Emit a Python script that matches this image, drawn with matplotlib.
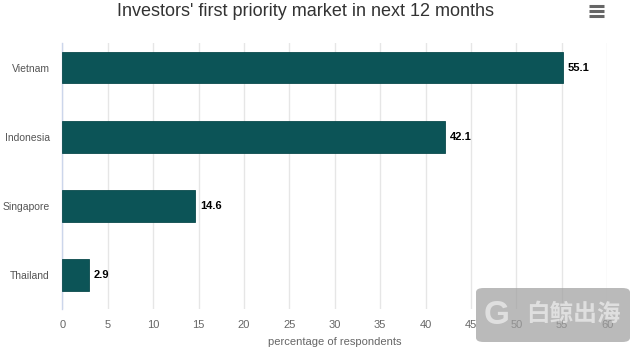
import matplotlib
matplotlib.use("Agg")
import matplotlib.pyplot as plt
from matplotlib.patches import FancyBboxPatch
from matplotlib.lines import Line2D

plt.rcParams['font.family'] = ['Liberation Sans', 'Noto Sans CJK SC', 'DejaVu Sans']

# データ
markets = ['Vietnam', 'Indonesia', 'Singapore', 'Thailand']
share = [55.1, 42.1, 14.6, 2.9]
xticks = [0, 5, 10, 15, 20, 25, 30, 35, 40, 45, 50, 55, 60]

bar_color = '#0c5457'

fig = plt.figure(figsize=(6.4, 3.51), dpi=100)
ax = fig.add_axes([0.0973, 0.1197, 0.8516, 0.7578])

ypos = list(range(len(markets)))
ax.barh(ypos, share, height=0.46, color=bar_color, edgecolor='#0a4a4c', linewidth=0.6, zorder=3)
for y, v in zip(ypos, share):
    ax.text(v + 0.55, y, f'{v}', va='center', ha='left', fontsize=8,
            fontweight='bold', color='#000000', zorder=4)

ax.set_xlim(0, 60)
ax.set_ylim(3.493, -0.355)
ax.set_xticks(xticks)
ax.set_xticklabels([str(t) for t in xticks], fontsize=8, color='#666666')
ax.set_yticks(ypos)
ax.set_yticklabels(markets, fontsize=7.5, color='#555555')
ax.tick_params(axis='both', length=0)
ax.tick_params(axis='x', pad=8)
ax.tick_params(axis='y', pad=9)

ax.grid(axis='x', color='#e6e6e6', linewidth=1, zorder=0)
ax.set_axisbelow(True)
for s in ['top', 'right', 'bottom']:
    ax.spines[s].set_visible(False)
ax.spines['left'].set_color('#ccd6eb')
ax.spines['left'].set_linewidth(1)

ax.set_xlabel('percentage of respondents', fontsize=8, color='#666666', labelpad=5)

fig.text(0.478, 0.966, "Investors' first priority market in next 12 months",
         ha='center', va='center', fontsize=13, color='#333333')

# メニューアイコン
for yy in [6, 11.3, 16]:
    fig.add_artist(Line2D([589 / 640, 604 / 640], [1 - yy / 351, 1 - yy / 351],
                          color='#666666', linewidth=2.2, solid_capstyle='butt'))

# ウォーターマーク
wm = FancyBboxPatch((476 / 640, 1 - 342 / 351), 154 / 640, 54 / 351,
                    boxstyle='round,pad=0,rounding_size=0.012',
                    transform=fig.transFigure, facecolor='#a0a0a0', alpha=0.72,
                    edgecolor='none', zorder=10)
fig.add_artist(wm)
fig.text(497 / 640, 1 - 316 / 351, 'G', ha='center', va='center', fontsize=24,
         fontweight='bold', color='#e6e6e6', alpha=0.85, zorder=11)
fig.text(573 / 640, 1 - 314 / 351, '白鲸出海', ha='center', va='center', fontsize=17,
         fontweight='bold', color='#e6e6e6', alpha=0.85, zorder=11,
         family=['Noto Sans CJK SC', 'DejaVu Sans'])

fig.savefig('out.png', dpi=100)
